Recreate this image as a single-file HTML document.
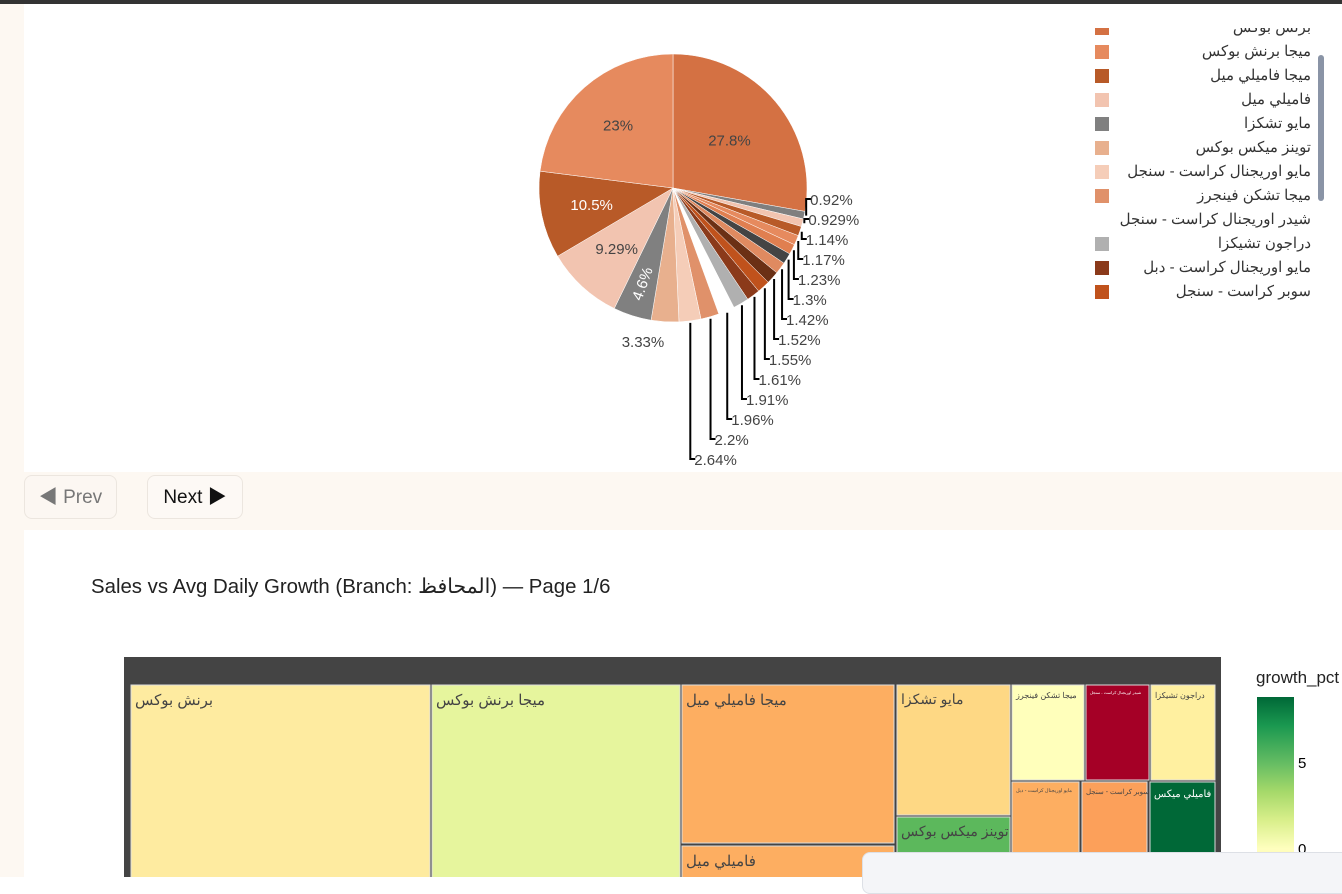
<!DOCTYPE html>
<html><head><meta charset="utf-8">
<style>
body{margin:0;width:1342px;height:877px;overflow:hidden;background:#fff;font-family:"Liberation Sans","Noto Sans CJK SC",sans-serif;position:relative}
.abs{position:absolute}
.btn{position:absolute;top:475px;height:44px;border:1px solid #ece6df;border-radius:8px;background:#fcf7f2;font-size:19px;line-height:44px;text-align:center;box-sizing:border-box}
</style></head><body>
<div class="abs" style="left:0;top:0;width:1342px;height:4px;background:#333"></div>
<div class="abs" style="left:0;top:4px;width:24px;height:873px;background:#fdf8f2"></div>
<svg class="abs" style="left:0;top:0" width="1342" height="470" id="pie"></svg>
<div class="abs" id="legend" style="left:1090px;top:28px;width:230px;height:282px;overflow:hidden"></div>
<div class="abs" style="left:1318px;top:55px;width:6px;height:146px;background:#8a94a6;border-radius:3px"></div>
<div class="abs" style="left:24px;top:472px;width:1318px;height:58px;background:#fdf8f2"></div>
<div class="btn" style="left:24px;width:93px;color:#777">◀ Prev</div>
<div class="btn" style="left:147px;width:96px;color:#111;background:#fdf9f5">Next ▶</div>
<div class="abs" style="left:91px;top:574px;font-size:20.4px;color:#222;white-space:nowrap">Sales vs Avg Daily Growth (Branch: المحافظ) — Page 1/6</div>
<svg class="abs" style="left:0;top:0" width="1342" height="877" id="tm"></svg>
<div class="abs" style="left:1256px;top:668px;font-size:17px;color:#222;white-space:nowrap">growth_pct</div>
<div class="abs" style="left:1257px;top:697px;width:37px;height:190px;background:linear-gradient(#006837,#1a9850 15%,#66bd63 35%,#a6d96a 50%,#d9ef8b 65%,#ffffbf 80%,#fee08b)"></div>
<div class="abs" style="left:1298px;top:755px;font-size:15px">5</div>
<div class="abs" style="left:1298px;top:841px;font-size:15px">0</div>
<div class="abs" style="left:862px;top:852px;width:490px;height:40px;background:#f4f5f8;border:1px solid #dde0e6;border-radius:8px"></div>
<script>
const pieLabels=["27.8%","0.92%","0.929%","1.14%","1.17%","1.23%","1.3%","1.42%","1.52%","1.55%","1.61%","1.91%","1.96%","2.2%","2.64%","3.33%","4.6%","9.29%","10.5%","23%"];
const pieValues=[27.8,0.92,0.929,1.14,1.17,1.23,1.3,1.42,1.52,1.55,1.61,1.91,1.96,2.2,2.64,3.33,4.6,9.29,10.5,23];
const pieColors=["#d47143","#7f7f7f","#f2c4b0","#b85a28","#e68a5e","#e07f50","#444444","#e08a60","#6b3015","#c0521c","#8b3a1a","#b0b0b0","#ffffff","#e0916a","#f5cdb8","#e8b08e","#808080","#f2c4b0","#b85a28","#e68a5e"];
const legendNames=["برنش بوكس","ميجا برنش بوكس","ميجا فاميلي ميل","فاميلي ميل","مايو تشكزا","توينز ميكس بوكس","مايو اوريجنال كراست - سنجل","ميجا تشكن فينجرز","شيدر اوريجنال كراست - سنجل","دراجون تشيكزا","مايو اوريجنال كراست - دبل","سوبر كراست - سنجل"];
const legendColors=["#d47143","#e68a5e","#b85a28","#f2c4b0","#808080","#e8b08e","#f5cdb8","#e0916a","#ffffff","#b0b0b0","#8b3a1a","#c0521c"];
const NS="http://www.w3.org/2000/svg";
const pie=document.getElementById('pie');
const cx=673,cy=188,R=134;
const total=pieValues.reduce((a,b)=>a+b,0);
function pt(a,r){return [cx+r*Math.sin(a),cy-r*Math.cos(a)];}
let acc=0;
pieValues.forEach((v,i)=>{
  const a0=acc/total*2*Math.PI;acc+=v;const a1=acc/total*2*Math.PI;
  const p0=pt(a0,R),p1=pt(a1,R);
  const p=document.createElementNS(NS,'path');
  p.setAttribute('d',`M${cx},${cy}L${p0[0]},${p0[1]}A${R},${R} 0 ${a1-a0>Math.PI?1:0} 1 ${p1[0]},${p1[1]}Z`);
  p.setAttribute('fill',pieColors[i]);p.setAttribute('stroke','#fff');p.setAttribute('stroke-width','0.5');
  
  
  pie.appendChild(p);
  const am=(a0+a1)/2;
  const t=document.createElementNS(NS,'text');
  t.setAttribute('font-size','15');t.setAttribute('fill','#444');
  
  
  t.textContent=pieLabels[i];
  if(i>=1&&i<=14){
    const e=pt(am,R+2);const ly=199+20*(i-1);
    const l=document.createElementNS(NS,'polyline');
    l.setAttribute('points',`${e[0]},${e[1]} ${e[0]},${ly} ${e[0]+5},${ly}`);
    l.setAttribute('fill','none');l.setAttribute('stroke','#000');l.setAttribute('stroke-width','2');
    
    
    pie.appendChild(l);
    t.setAttribute('x',e[0]+4);t.setAttribute('y',ly+6);
  } else if(i==15){
    const e=pt(am,R);t.setAttribute('x',e[0]-22);t.setAttribute('y',e[1]+25);t.setAttribute('text-anchor','middle');
  } else {
    const rr=i==0?0.55:(i==16?0.75:0.62);const e=pt(am,R*rr);
    t.setAttribute('x',e[0]);t.setAttribute('y',e[1]+5);t.setAttribute('text-anchor','middle');
    if(i==16||i==18)t.setAttribute('fill','#fff');
    if(i==16)t.setAttribute('transform',`rotate(-70 ${e[0]} ${e[1]})`);
  }
  pie.appendChild(t);
});
const lg=document.getElementById('legend');
legendNames.forEach((n,i)=>{
  const d=document.createElement('div');
  
  
  d.style.cssText=`position:absolute;left:5px;top:${i*24-10}px;width:222px;height:20px;font-size:15px;color:#333;font-family:"Liberation Sans","Noto Sans CJK SC",sans-serif`;
  d.innerHTML=`<span style="position:absolute;left:0;top:3px;width:14px;height:14px;background:${legendColors[i]}"></span><span style="position:absolute;right:6px;top:0;white-space:nowrap" dir="rtl">${n}</span>`;
  lg.appendChild(d);
});
const tileNames=["برنش بوكس","ميجا برنش بوكس","ميجا فاميلي ميل","فاميلي ميل","مايو تشكزا","توينز ميكس بوكس","ميجا تشكن فينجرز","شيدر اوريجنال كراست - سنجل","دراجون تشيكزا","مايو اوريجنال كراست - دبل","سوبر كراست - سنجل","فاميلي ميكس"];
const tileBox=[[131,685,299,200],[432,685,248,200],[682,685,212,158],[682,846,212,40],[897,685,113,130],[897,817,113,70],[1012,685,72,95],[1086,685,63,95],[1151,685,64,95],[1012,782,67,100],[1082,782,65,100],[1150,782,65,100]];
const tileColors=["#feeba0","#e6f59d","#fdae61","#fdae61","#fed884","#5cb85c","#ffffbb","#a50026","#fff0a0","#fdae61","#fca05a","#006837"];
const tileFont=[15,15,15,15,14,14,8,4,8,5,7,10];
const tm=document.getElementById('tm');
const bg=document.createElementNS(NS,'rect');
bg.setAttribute('x',124);bg.setAttribute('y',657);bg.setAttribute('width',1097);bg.setAttribute('height',230);bg.setAttribute('fill','#444');


tm.appendChild(bg);
tileNames.forEach((n,i)=>{
  const b=tileBox[i];
  const r=document.createElementNS(NS,'rect');
  r.setAttribute('x',b[0]);r.setAttribute('y',b[1]);r.setAttribute('width',b[2]);r.setAttribute('height',b[3]);
  r.setAttribute('fill',tileColors[i]);r.setAttribute('stroke','#ddd');r.setAttribute('stroke-width','1');
  
  
  tm.appendChild(r);
  const t=document.createElementNS(NS,'text');
  const dark=(i==7||i==11);
  t.setAttribute('x',b[0]+4);t.setAttribute('y',b[1]+tileFont[i]+5);
  t.setAttribute('font-size',tileFont[i]);
  t.setAttribute('fill',dark?'#fff':'#444');
  t.setAttribute('font-family','"Liberation Sans","Noto Sans CJK SC",sans-serif');
  
  
  t.textContent=n;
  tm.appendChild(t);
});
</script>
</body></html>
